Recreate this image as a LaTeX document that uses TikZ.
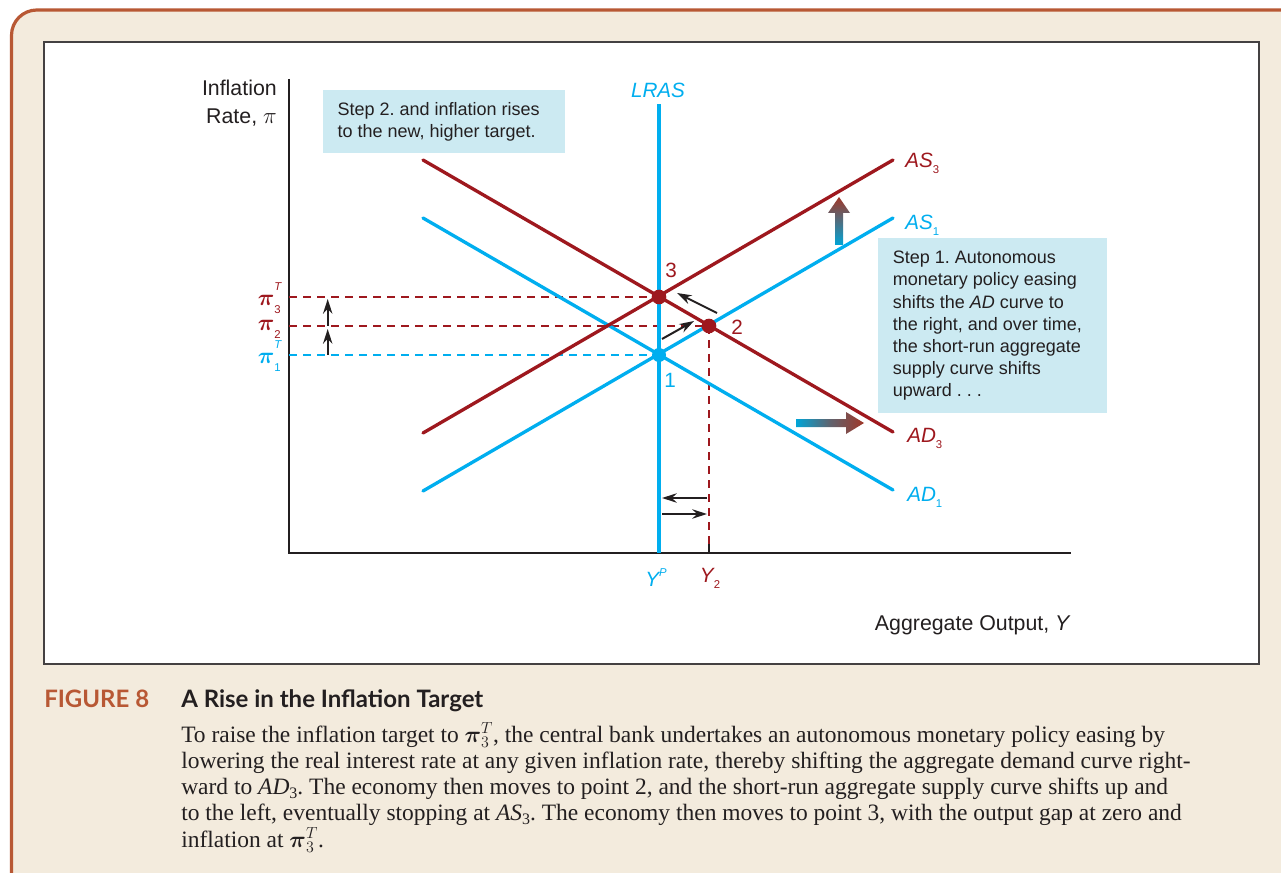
\documentclass[tikz,border=0pt]{standalone}
\usepackage{fontspec}
\usepackage{amsmath}
\setmainfont{Liberation Serif}
\setsansfont{Liberation Sans}
\newfontfamily\headfont{Lato}
\usetikzlibrary{arrows.meta}
\definecolor{mycyan}{RGB}{0,174,239}
\definecolor{myred}{RGB}{158,24,30}
\definecolor{mybox}{RGB}{204,234,242}
\definecolor{mybeige}{RGB}{243,235,221}
\definecolor{mybrown}{RGB}{184,88,52}
\definecolor{mydark}{RGB}{35,31,32}
\definecolor{myarrow}{RGB}{160,55,40}
\definecolor{myshaft}{RGB}{0,165,215}
\newcommand\lsub[1]{\raisebox{-0.55ex}{\fontsize{8.5}{9}\selectfont #1}}
\newcommand\pilab[2]{{\fontsize{19}{20}\selectfont$\boldsymbol{\pi}$}\rlap{\raisebox{1.35ex}{\fontsize{8.5}{9}\selectfont\itshape #1}}\raisebox{-0.75ex}{\fontsize{8.5}{9}\selectfont #2}}
\newcommand\capsub[1]{\raisebox{-0.45ex}{\fontsize{12}{12}\selectfont #1}}

\begin{document}
\frenchspacing
\begin{tikzpicture}[x=0.75pt,y=-0.75pt,
  axis/.style={line width=1.1pt,mydark},
  curve/.style={line width=2.5pt,line cap=round},
  guide/.style={line width=0.9pt,dash pattern=on 6pt off 4.5pt},
  dot/.style={circle,fill=#1,inner sep=0pt,minimum size=11pt},
  lab/.style={font=\sffamily\fontsize{15.5}{18}\selectfont,inner sep=0pt},
  axlab/.style={font=\sffamily\fontsize{16}{21}\selectfont,inner sep=0pt,text=mydark},
  stepbox/.style={fill=mybox,font=\sffamily\fontsize{13.5}{16.6}\selectfont,align=flush left,
    anchor=north west,inner ysep=0pt,text=mydark},
  shiftarrow/.style={-{Stealth[length=11pt,width=7pt]},line width=1.5pt,mydark},
  captext/.style={anchor=base west,inner sep=0pt,font=\fontsize{17.6}{20}\selectfont,text=mydark},
  headtext/.style={anchor=base west,inner sep=0pt,font=\headfont\bfseries\fontsize{18}{20}\selectfont}]
\clip (0,0) rectangle (1281,873);
\useasboundingbox (0,0) rectangle (1281,873);

% frame and panel
\fill[white] (0,0) rectangle (1281,873);
\draw[mybrown,line width=2.4pt,fill=mybeige,rounded corners=19pt] (11.5,10) rectangle (1330,920);
\draw[mydark!85,line width=1.1pt,fill=white] (44,42) rectangle (1259,664);

% axes
\coordinate (origin) at (289,553);
\coordinate (ytop) at (289,79);
\coordinate (xend) at (1071,553);
\draw[axis] (ytop) -- (origin) -- (xend);
\node[axlab,anchor=east,align=right] (ylab) at (277,103) {Inflation\\Rate, $\pi$};
\node[axlab,anchor=east] (xlab) at (1071,625) {Aggregate Output, \textit{Y}};

% equilibrium points
\coordinate (e1) at (659,355);
\coordinate (e2) at (709,326);
\coordinate (e3) at (659,297);

% guide lines
\draw[guide,mycyan] (origin |- e1) -- (e1);
\draw[guide,myred] (origin |- e2) -- (e2);
\draw[guide,myred] (origin |- e3) -- (e3);
\coordinate (y2tick) at (709,544);
\draw[guide,myred] (e2) -- (y2tick);
\draw[axis] (y2tick) -- (e2 |- origin);

% curves
\coordinate (lrasB) at (659,553);
\coordinate (lrasT) at (659,104);
\coordinate (ad1a) at (423,218);
\coordinate (ad1b) at (893,490);
\coordinate (as1a) at (423,491);
\coordinate (as1b) at (893,218);
\coordinate (ad3a) at (423,160);
\coordinate (ad3b) at (893,432);
\coordinate (as3a) at (423,433);
\coordinate (as3b) at (893,160);
\draw[curve,mycyan] (ad1a) -- (ad1b);
\draw[curve,mycyan] (as1a) -- (as1b);
\draw[curve,myred] (ad3a) -- (ad3b);
\draw[curve,myred] (as3a) -- (as3b);
\draw[mycyan,line width=3pt] (lrasB) -- (lrasT);

\node[dot=mycyan,minimum size=10.5pt] (p1) at (e1) {};
\node[dot=myred] (p2) at (e2) {};
\node[dot=myred] (p3) at (e3) {};

% labels
\node[lab,text=mycyan] (lras) at (658,90) {\itshape LRAS};
\node[lab,text=myred,anchor=west] (as3) at (905,163) {\itshape AS\lsub{\upshape 3}};
\node[lab,text=mycyan,anchor=west] (as1) at (905,225) {\itshape AS\lsub{\upshape 1}};
\node[lab,text=myred,anchor=west] (ad3) at (907,438) {\itshape AD\lsub{\upshape 3}};
\node[lab,text=mycyan,anchor=west] (ad1) at (907,497) {\itshape AD\lsub{\upshape 1}};
\node[lab,text=myred] (n3) at (671,270) {3};
\node[lab,text=myred] (n2) at (737,327) {2};
\node[lab,text=mycyan] (n1) at (670,380) {1};
\node[lab,text=myred,anchor=east] (pi3) at (281,298) {\pilab{T}{3}};
\node[lab,text=myred,anchor=east] (pi2) at (281,327) {\pilab{}{2}};
\node[lab,text=mycyan,anchor=east] (pi1) at (281,356) {\pilab{T}{1}};
\node[lab,text=mycyan] (yp) at (656,578) {\itshape Y\raisebox{0.9ex}{\fontsize{8.5}{9}\selectfont P}};
\node[lab,text=myred] (y2) at (710,578) {\itshape Y\lsub{\upshape 2}};

% small shift arrows
\coordinate (up1s) at (327.7,355);
\coordinate (up1e) at (327.7,329);
\coordinate (up2s) at (327.7,326);
\coordinate (up2e) at (327.7,299);
\draw[shiftarrow] (up1s) -- (up1e);
\draw[shiftarrow] (up2s) -- (up2e);
\coordinate (mv1s) at (662,339);
\coordinate (mv1e) at (694,321);
\coordinate (mv2s) at (717,313);
\coordinate (mv2e) at (677,293);
\draw[shiftarrow] (mv1s) -- (mv1e);
\draw[shiftarrow] (mv2s) -- (mv2e);
\coordinate (gapL) at (662,498);
\coordinate (gapR) at (707,498);
\coordinate (gapL2) at (662,514);
\coordinate (gapR2) at (707,514);
\draw[shiftarrow] (gapR) -- (gapL);
\draw[shiftarrow] (gapL2) -- (gapR2);

% big shaded shift arrows
\shade[top color=myarrow,bottom color=myshaft]
  (835,245) -- (835,213) -- (828,213) -- (839,197) -- (850,213) -- (843,213) -- (843,245) -- cycle;
\shade[left color=myshaft,right color=myarrow,middle color=myarrow!60!myshaft]
  (796,419) -- (846,419) -- (846,412) -- (864,423) -- (846,434) -- (846,427) -- (796,427) -- cycle;

% step boxes
\node[stepbox,inner xsep=10.875pt,text width=150pt,minimum height=131.25pt] (step1) at (878,238)
  {Step 1. Autonomous\\monetary policy easing\\shifts the \textit{AD} curve to\\the right, and over time,\\the short-run aggregate\\supply curve shifts\\upward . . .};
\node[stepbox,inner xsep=10.75pt,text width=160pt,minimum height=47.25pt] (step2) at (323,90)
  {Step 2. and inflation rises\\to the new, higher target.};

% caption
\node[headtext,text=mybrown] (fig) at (44,707) {FIGURE 8};
\node[headtext,text=mydark] (title) at (181,707) {A Rise in the Inflation Target};
\node[captext] (cap1) at (181,742) {To raise the inflation target to $\boldsymbol{\pi}^{T}_{3}$, the central bank undertakes an autonomous monetary policy easing by};
\node[captext] (cap2) at (181,768) {lowering the real interest rate at any given inflation rate, thereby shifting the aggregate demand curve right-};
\node[captext] (cap3) at (181,794) {ward to \textit{AD}\capsub{3}. The economy then moves to point 2, and the short-run aggregate supply curve shifts up and};
\node[captext] (cap4) at (181,820) {to the left, eventually stopping at \textit{AS}\capsub{3}. The economy then moves to point 3, with the output gap at zero and};
\node[captext] (cap5) at (181,847) {inflation at $\boldsymbol{\pi}^{T}_{3}$.};

\end{tikzpicture}
\end{document}
